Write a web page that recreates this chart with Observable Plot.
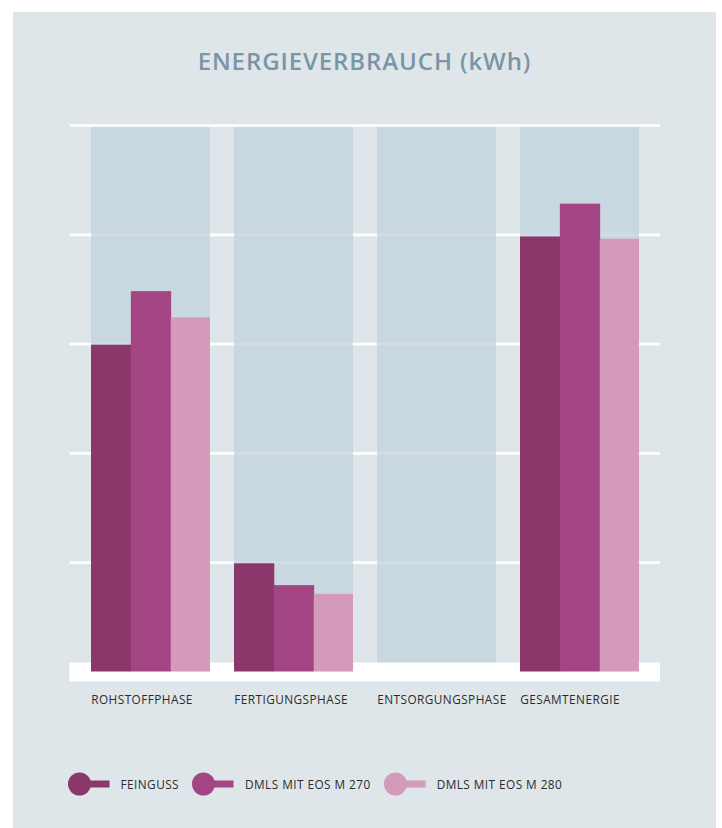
<!DOCTYPE html>
<html>
<head>
<meta charset="utf-8">
<script src="https://cdn.jsdelivr.net/npm/d3@7"></script>
<script src="https://cdn.jsdelivr.net/npm/@observablehq/plot@0.6"></script>
<style>
  html, body { margin: 0; padding: 0; background: #ffffff; }
  body { font-family: "Open Sans", "DejaVu Sans", sans-serif; }
  #panel { position: absolute; left: 13px; top: 12px; width: 703px; height: 830px; background: #dfe6e9; overflow: hidden; }
  #title { position: absolute; left: 0; top: 36.5px; width: 100%; text-align: center; margin: 0;
           font-size: 24px; line-height: 24px; font-weight: 600; color: #7b95a8; letter-spacing: 0.9px; }
  #chart { position: absolute; left: 0; top: 88px; }
  #legend { position: absolute; left: 54.5px; top: 760px; height: 24px; display: flex; align-items: center;
            font-size: 11.8px; font-weight: 500; letter-spacing: 0.45px; color: #2b2b2b; }
  .item { display: flex; align-items: center; margin-right: 13px; }
  .item svg { display: block; margin-right: 11px; }
</style>
</head>
<body>
<div id="panel">
  <div id="title">ENERGIEVERBRAUCH (kWh)</div>
  <div id="chart"></div>
  <div id="legend"></div>
</div>
<script>
// Phases on the x axis
const categories = ["ROHSTOFFPHASE", "FERTIGUNGSPHASE", "ENTSORGUNGSPHASE", "GESAMTENERGIE"];
// Manufacturing processes compared in each phase
const series = ["FEINGUSS", "DMLS MIT EOS M 270", "DMLS MIT EOS M 280"];
const colors = ["#8c376c", "#a34483", "#d39aba"];
// Energy per phase (gridline units)
const feinguss = [2.99, 0.99, 0, 3.98];
const dmls270  = [3.48, 0.79, 0, 4.28];
const dmls280  = [3.24, 0.71, 0, 3.96];
// Gridline positions
const gridTicks = [0, 1, 2, 3, 4, 5];

const values = [feinguss, dmls270, dmls280];
const rows = series.flatMap((s, si) =>
  categories.map((c, ci) => ({ category: c, series: s, value: values[si][ci] }))
);

const W = 703, H = 620;
const margins = { marginLeft: 56.5, marginRight: 56, marginTop: 25, marginBottom: 48.5 };
const xOptions = { type: "band", domain: categories, paddingInner: 0.167, paddingOuter: 0.14 };

// Width of one phase column, split in three for the process bars
const bandwidth = Plot.scale({ x: { ...xOptions, range: [margins.marginLeft, W - margins.marginRight] } }).bandwidth;
const slot = bandwidth / 3;
const yTop = gridTicks[gridTicks.length - 1];

// Each bar reaches 1px under its right neighbour so no seam shows between them
const seriesBars = series.map((s, i) => {
  const last = i === series.length - 1;
  return Plot.barY(rows.filter(d => d.series === s), {
    x: "category",
    y: "value",
    fill: "series",
    insetLeft: i * slot,
    insetRight: last ? 0 : (series.length - 1 - i) * slot - 1
  });
});

const chart = Plot.plot({
  width: W,
  height: H,
  ...margins,
  x: xOptions,
  y: { domain: [0, yTop], axis: null },
  color: { domain: series, range: colors },
  style: { background: "transparent", fontFamily: "'Open Sans', sans-serif", fontSize: "11.8px", fontWeight: 500, letterSpacing: "0.45px", overflow: "visible" },
  marks: [
    Plot.gridY(gridTicks, { stroke: "#ffffff", strokeOpacity: 1, strokeWidth: 2.7 }),
    Plot.barY(categories, { x: d => d, y: () => yTop, fill: "#c2d2dc", fillOpacity: 0.75, insetTop: 2 }),
    Plot.ruleY([0], { stroke: "#ffffff", strokeWidth: 19 }),
    ...seriesBars,
    Plot.axisX({ tickSize: 0, tickPadding: 23.5, textAnchor: "start", dx: -bandwidth / 2, fill: "#2b2b2b", label: null })
  ]
});
document.getElementById("chart").appendChild(chart);

// Legend: a dot with a short stem, then the process name
const legend = document.getElementById("legend");
series.forEach((s, i) => {
  const item = document.createElement("div");
  item.className = "item";
  item.innerHTML =
    `<svg width="42" height="24" viewBox="0 0 42 24">` +
    `<rect x="11" y="8.5" width="30.5" height="7" fill="${colors[i]}"></rect>` +
    `<circle cx="11.5" cy="12" r="11.5" fill="${colors[i]}"></circle></svg>` +
    `<span>${s}</span>`;
  legend.appendChild(item);
});
</script>
</body>
</html>
